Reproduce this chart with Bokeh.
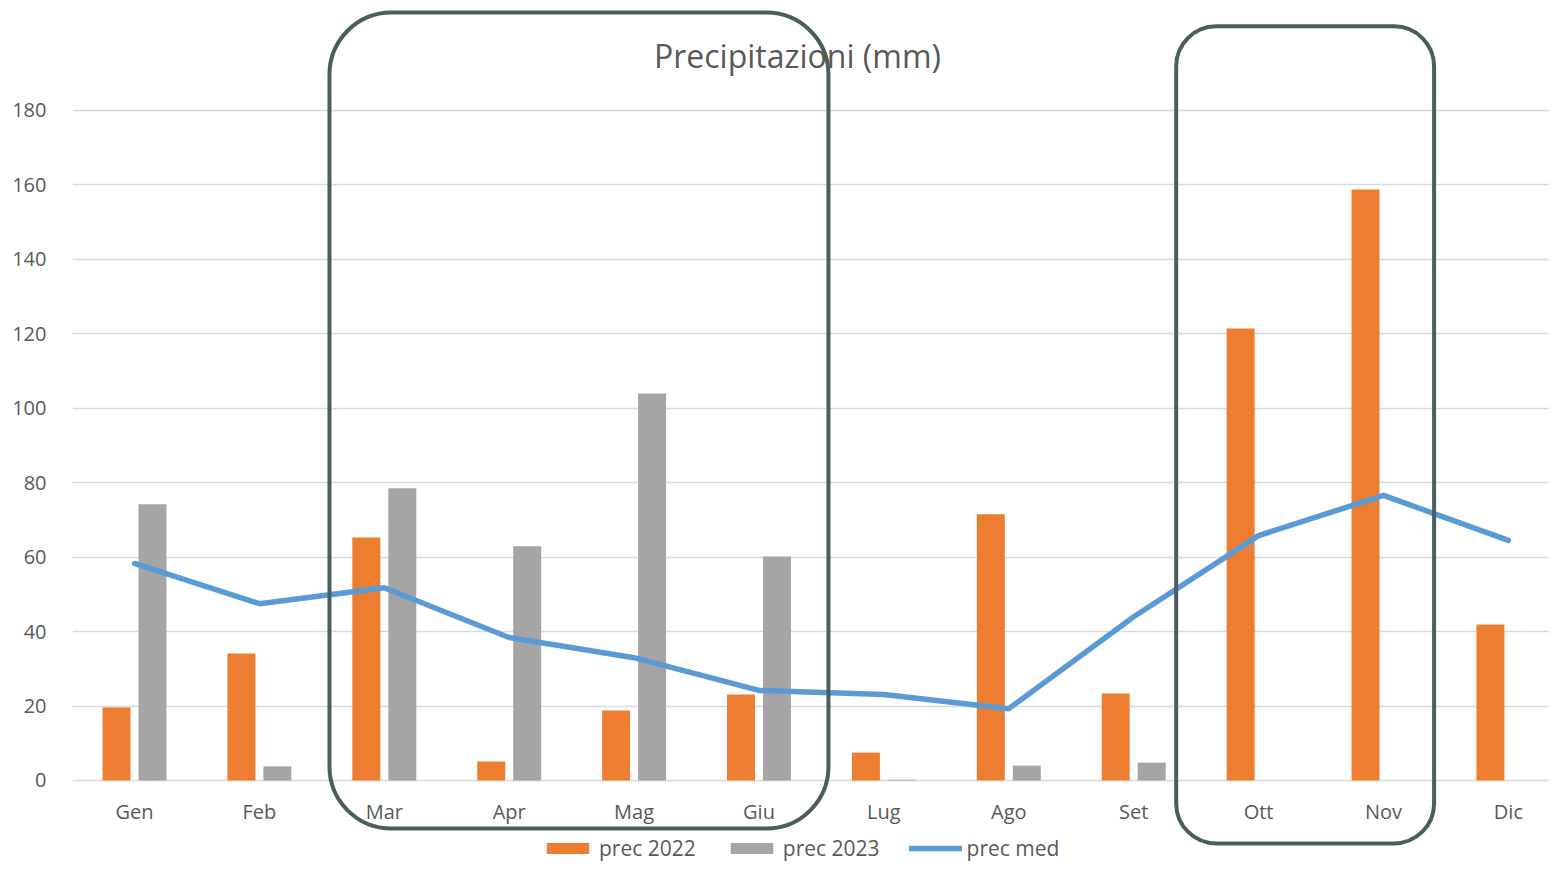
from bokeh.plotting import figure
from bokeh.models import (Range1d, FixedTicker, BoxAnnotation, Label, Legend, LegendItem)
from bokeh.embed import file_html
from bokeh.resources import INLINE
import numpy as np

months = ["Gen", "Feb", "Mar", "Apr", "Mag", "Giu", "Lug", "Ago", "Set", "Ott", "Nov", "Dic"]
prec_2022 = [19.6, 34.1, 65.3, 5.1, 18.8, 23.1, 7.5, 71.5, 23.4, 121.4, 158.8, 41.9]
prec_2023 = [74.2, 3.8, 78.5, 62.9, 104.0, 60.2, 0.2, 4.0, 4.8, 0, 0, 0]
prec_med = [58.3, 47.5, 51.8, 38.4, 33.0, 24.2, 23.1, 19.3, 44.0, 65.8, 76.6, 64.5]
y_ticks = [0, 20, 40, 60, 80, 100, 120, 140, 160, 180]

FONT = "Open Sans"
TXT = "#595959"

x = np.arange(len(months))

p = figure(width=1549, height=862, output_backend="svg", toolbar_location=None,
           x_range=Range1d(-0.4964, 11.329), y_range=Range1d(-22.03, 209.55),
           min_border_left=72, min_border_right=0, min_border_top=0, min_border_bottom=0)
p.outline_line_color = None
p.background_fill_color = "white"

b1 = p.vbar(x=x - 0.144, top=prec_2022, width=0.224, fill_color="#ED7D31", line_color=None)
b2 = p.vbar(x=x + 0.144, top=prec_2023, width=0.224, fill_color="#A5A5A5", line_color=None)
ln = p.line(x=x, y=prec_med, line_width=5.5, line_color="#5B9BD5", line_join="round", line_cap="round")

p.xgrid.visible = False
p.ygrid.grid_line_color = "#D9D9D9"
p.ygrid.grid_line_width = 1.5
p.yaxis.ticker = FixedTicker(ticks=y_ticks)
p.xaxis.ticker = FixedTicker(ticks=list(range(len(months))))
p.xaxis.major_label_overrides = {i: m for i, m in enumerate(months)}
p.xaxis.fixed_location = 0

for ax in (p.xaxis, p.yaxis):
    ax.axis_line_color = None
    ax.major_tick_line_color = None
    ax.minor_tick_line_color = None
    ax.major_label_text_font = FONT
    ax.major_label_text_font_size = "20px"
    ax.major_label_text_color = TXT
p.xaxis.major_label_standoff = 12
p.yaxis.major_label_standoff = 20

title = Label(x=5.308, y=194.8, text="Precipitazioni (mm)", text_align="center", text_baseline="middle",
              text_font=FONT, text_font_size="32px", text_color=TXT)
p.add_layout(title)

box1 = BoxAnnotation(left=1.561, right=5.556, bottom=-12.9, top=206.3, fill_alpha=0,
                     line_color="#4B5E5E", line_alpha=1, line_width=4, border_radius=62)
box2 = BoxAnnotation(left=8.34, right=10.405, bottom=-16.9, top=202.6, fill_alpha=0,
                     line_color="#4B5E5E", line_alpha=1, line_width=4, border_radius=40)
p.add_layout(box1)
p.add_layout(box2)

legend = Legend(items=[LegendItem(label="prec 2022", renderers=[b1]),
                       LegendItem(label="prec 2023", renderers=[b2]),
                       LegendItem(label="prec med", renderers=[ln])],
                orientation="horizontal", location=(469, 0),
                glyph_width=53, glyph_height=14, label_standoff=5, spacing=29,
                padding=0, margin=0, border_line_color=None, background_fill_alpha=0,
                label_text_font=FONT, label_text_font_size="21px", label_text_color=TXT)
p.add_layout(legend)

open("out.html", "w").write(file_html(p, INLINE))
